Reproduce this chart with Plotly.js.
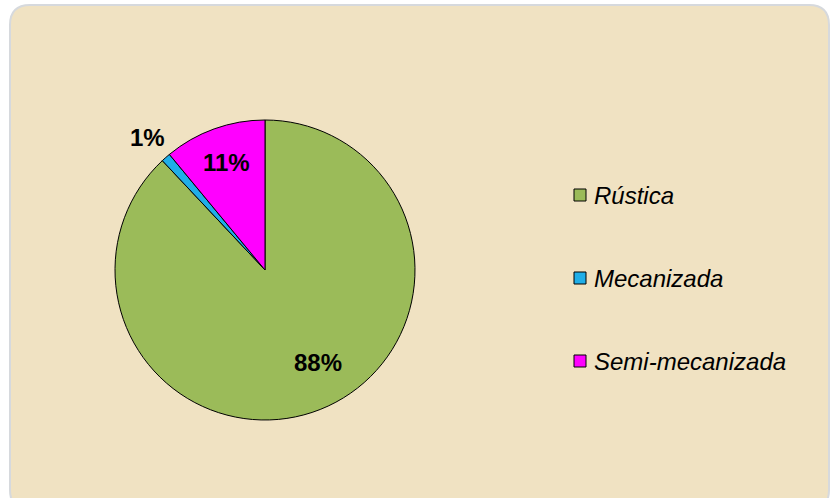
<!DOCTYPE html>
<html>
<head>
<meta charset="utf-8">
<script src="https://cdn.plot.ly/plotly-3.0.1.min.js"></script>
<style>html,body{margin:0;padding:0;background:#fff;}#chart{width:833px;height:498px;}</style>
</head>
<body>
<div id="chart"></div>
<script>
var categories = ["Rústica", "Mecanizada", "Semi-mecanizada"];
var values = [88, 1, 11];
var colors = ["#9BBB59", "#1FAEE8", "#FF00FF"];
var labelRadius = [0.71, 1.18, 0.76];  // label distance as fraction of pie radius
var labelShiftDeg = [-8, 0, 0];        // label angle shift from slice middle

var W = 833, H = 498;
function px(x){ return x / W; }
function py(y){ return 1 - y / H; }

// pie geometry (pixels)
var CX = 265, CY = 270, RAD = 150;

// rounded background panel (path in paper coords)
var L = 10, T = 5, R = 829, B = 510, rad = 20;
function P(x, y){ return px(x) + "," + py(y); }
var panelPath = "M " + P(L + rad, T) + " L " + P(R - rad, T) +
  " Q " + P(R, T) + " " + P(R, T + rad) + " L " + P(R, B - rad) +
  " Q " + P(R, B) + " " + P(R - rad, B) + " L " + P(L + rad, B) +
  " Q " + P(L, B) + " " + P(L, B - rad) + " L " + P(L, T + rad) +
  " Q " + P(L, T) + " " + P(L + rad, T) + " Z";

var font = "Liberation Sans, Arial, sans-serif";
var shapes = [{
  type: "path", xref: "paper", yref: "paper", path: panelPath,
  fillcolor: "#F0E2C2", line: {color: "#D6D9DD", width: 2}, layer: "below"
}];
var annotations = [];

// legend
var legendX = 574, legendY0 = 195, legendStep = 83, sq = 12;
categories.forEach(function(c, i){
  var cy = legendY0 + i * legendStep;
  shapes.push({
    type: "rect", xref: "paper", yref: "paper",
    x0: px(legendX), x1: px(legendX + sq), y0: py(cy + sq / 2), y1: py(cy - sq / 2),
    fillcolor: colors[i], line: {color: "#000", width: 1}
  });
  annotations.push({
    xref: "paper", yref: "paper", x: px(legendX + sq + 6), y: py(cy),
    xanchor: "left", yanchor: "middle", showarrow: false,
    text: "<i>" + c + "</i>",
    font: {family: font, size: 24, color: "#000"}
  });
});

// percent labels, placed from the data (clockwise from 12 o'clock)
var total = values.reduce(function(a, b){ return a + b; }, 0);
var cum = 0;
values.forEach(function(v, i){
  var mid = (cum + v / 2) / total * 2 * Math.PI + labelShiftDeg[i] * Math.PI / 180;
  cum += v;
  var r = RAD * labelRadius[i];
  var x = CX + r * Math.sin(mid), y = CY - r * Math.cos(mid);
  annotations.push({
    xref: "paper", yref: "paper", x: px(x), y: py(y),
    xanchor: "center", yanchor: "middle", showarrow: false,
    text: "<b>" + Math.round(v / total * 100) + "%</b>",
    font: {family: font, size: 24, color: "#000"}
  });
});

var trace = {
  type: "pie",
  labels: categories,
  values: values,
  sort: false,
  direction: "clockwise",
  rotation: 0,
  marker: {colors: colors, line: {color: "#000", width: 1}},
  textinfo: "none",
  showlegend: false,
  hoverinfo: "none",
  domain: {x: [px(CX - RAD), px(CX + RAD)], y: [py(CY + RAD), py(CY - RAD)]}
};

var layout = {
  width: W, height: H,
  margin: {l: 0, r: 0, t: 0, b: 0},
  paper_bgcolor: "#FFFFFF",
  plot_bgcolor: "rgba(0,0,0,0)",
  showlegend: false,
  shapes: shapes,
  annotations: annotations
};

Plotly.newPlot("chart", [trace], layout, {displayModeBar: false, staticPlot: true});
</script>
</body>
</html>
